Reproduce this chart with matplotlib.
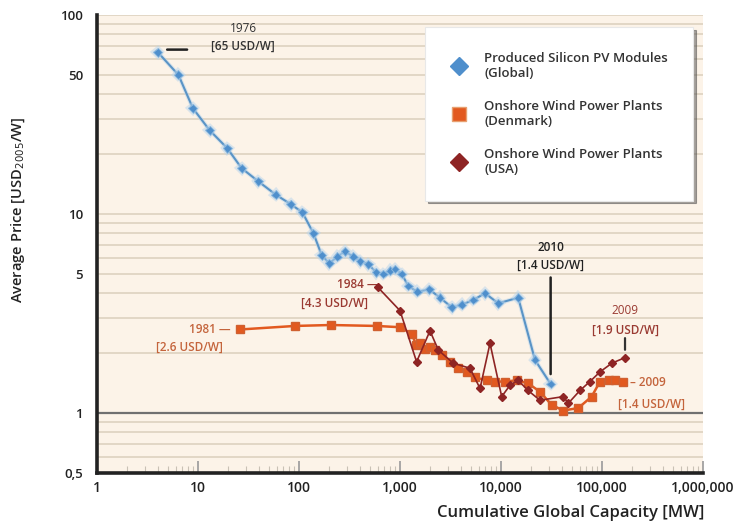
import matplotlib
matplotlib.use("Agg")
import matplotlib.pyplot as plt
from matplotlib.lines import Line2D
from matplotlib.ticker import FixedLocator, FixedFormatter, NullFormatter
import matplotlib.patheffects as pe

plt.rcParams['font.family'] = ['Open Sans', 'DejaVu Sans']

# ---- data ----
pv_x = [4, 6.4, 8.9, 13, 19.5, 27, 39.5, 59, 83, 108, 139, 168, 200, 239, 285, 345,
        402, 486, 578, 684, 796, 893, 1040, 1208, 1484, 1950, 2490, 3250, 4080, 5320,
        6950, 9400, 14800, 21700, 31000]
pv_y = [65, 50, 34, 26.4, 21.4, 17, 14.6, 12.5, 11.2, 10.2, 8.0, 6.2, 5.65, 6.1, 6.5, 6.1,
        5.8, 5.6, 5.1, 5.0, 5.2, 5.3, 5.0, 4.35, 4.07, 4.18, 3.8, 3.4, 3.5, 3.7,
        4.0, 3.56, 3.8, 1.85, 1.4]

dk_x = [26, 91, 206, 588, 1000, 1300, 1450, 1580, 1770, 2000, 2220, 2590, 3130, 3780,
        4570, 5530, 7220, 8720, 10970, 14300, 18600, 24300, 31700, 41400, 58200, 79000,
        95500, 116000, 134000, 163000]
dk_y = [2.63, 2.74, 2.77, 2.74, 2.70, 2.51, 2.2, 2.24, 2.11, 2.15, 2.07, 1.96, 1.81, 1.68,
        1.61, 1.51, 1.46, 1.44, 1.44, 1.46, 1.41, 1.28, 1.10, 1.03, 1.06, 1.21,
        1.44, 1.46, 1.46, 1.44]

us_x = [600, 1000, 1460, 1980, 2400, 3370, 4930, 6200, 7780, 10160, 12280, 14800, 18500,
        24300, 41400, 46400, 60600, 76000, 95500, 125000, 169000]
us_y = [4.3, 3.27, 1.81, 2.59, 2.07, 1.78, 1.68, 1.33, 2.24, 1.21, 1.38, 1.46, 1.3,
        1.16, 1.21, 1.12, 1.30, 1.44, 1.61, 1.78, 1.9]

x_ticks = [1, 10, 100, 1000, 10000, 100000, 1000000]
x_labels = ["1", "10", "100", "1,000", "10,000", "100,000", "1,000,000"]
y_ticks = [0.5, 1, 5, 10, 50, 100]
y_labels = ["0,5", "1", "5", "10", "50", "100"]

legend_labels = ["Produced Silicon PV Modules\n(Global)",
                 "Onshore Wind Power Plants\n(Denmark)",
                 "Onshore Wind Power Plants\n(USA)"]

# ---- colours ----
c_pv_line = "#5a94c6"
c_pv_mark = "#4f8fcc"
c_dk = "#e2591f"
c_us = "#8e2424"
c_dk_txt = "#c4643c"
c_us_txt = "#9a3a32"

fig = plt.figure(figsize=(7.41, 5.26), dpi=100)
ax = fig.add_axes([97/741, 1-473/526, 606/741, 458/526])
ax.set_facecolor("#fcf3e8")
ax.set_xscale("log")
ax.set_yscale("log")
ax.set_xlim(1, 1e6)
ax.set_ylim(0.5, 100)

# horizontal grid lines
minor_y = [0.6, 0.7, 0.8, 0.9] + [v for v in range(2, 10)] + [v*10 for v in range(2, 10)] + [10, 100]
for v in minor_y:
    ax.axhline(v, color="#e0d5c3", lw=1.3, zorder=0)
ax.axhline(1, color="#707070", lw=1.6, zorder=1)

# series
ax.plot(pv_x, pv_y, color=c_pv_line, lw=1.5, marker="D", ms=4.5,
        mfc=c_pv_mark, mec="#8fbbe0", mew=0.6, zorder=4,
        path_effects=[pe.Stroke(linewidth=3, foreground="#b7d4ec", alpha=0.5), pe.Normal()])
ax.plot(dk_x, dk_y, color=c_dk, lw=1.8, marker="s", ms=5.5, mfc=c_dk, mec="#d06030",
        zorder=3)
ax.plot(us_x, us_y, color=c_us, lw=1.2, marker="D", ms=4, mfc=c_us, mec=c_us,
        zorder=5)

# ticks
ax.xaxis.set_major_locator(FixedLocator(x_ticks))
ax.xaxis.set_major_formatter(FixedFormatter(x_labels))
ax.xaxis.set_minor_formatter(NullFormatter())
ax.yaxis.set_major_locator(FixedLocator(y_ticks))
ax.yaxis.set_major_formatter(FixedFormatter(y_labels))
ax.yaxis.set_minor_locator(FixedLocator([]))
ax.tick_params(axis="x", which="major", direction="in", length=9, width=1.2,
               color="#9a9a9a", labelsize=10, pad=6)
ax.tick_params(axis="x", which="minor", direction="in", length=5, width=0.8,
               color="#c9c1b5")
ax.tick_params(axis="y", which="major", length=0, labelsize=9.5, pad=10)
for lab in ax.get_xticklabels() + ax.get_yticklabels():
    lab.set_fontweight("semibold")
    lab.set_color("#222222")

for s in ["top", "right"]:
    ax.spines[s].set_visible(False)
for s in ["left", "bottom"]:
    ax.spines[s].set_linewidth(2.6)
    ax.spines[s].set_color("#222222")

# axis labels
fig.text(704/741, 1-513/526, "Cumulative Global Capacity [MW]", ha="right", va="center",
         fontsize=12, fontweight="semibold", color="#222222")
fig.text(18/741, 1-210/526, "Average Price [USD$_{2005}$/W]", ha="center", va="center",
         rotation=90, fontsize=10.5, fontweight="semibold", color="#222222")

# annotations
fs = 8.5
ax.text(28, 86, "1976", ha="center", va="center", fontsize=fs, color="#333333")
ax.text(28, 70, "[65 USD/W]", ha="center", va="center", fontsize=fs, color="#333333",
        fontweight="semibold")
ax.annotate("", xy=(4.95, 67), xytext=(7.8, 67),
            arrowprops=dict(arrowstyle="-", color="#222222", lw=1.8,
                            shrinkA=0, shrinkB=0))

ax.text(31000, 6.8, "2010", ha="center", va="center", fontsize=fs, color="#222222",
        fontweight="semibold")
ax.text(31000, 5.55, "[1.4 USD/W]", ha="center", va="center", fontsize=fs, color="#222222",
        fontweight="semibold")
ax.annotate("", xy=(31000, 1.57), xytext=(31000, 4.8),
            arrowprops=dict(arrowstyle="-", color="#222222", lw=1.8,
                            shrinkA=0, shrinkB=0))

ax.text(610, 4.45, "1984 —", ha="right", va="center", fontsize=fs, color=c_us_txt,
        fontweight="semibold")
ax.text(480, 3.55, "[4.3 USD/W]", ha="right", va="center", fontsize=fs, color=c_us_txt,
        fontweight="semibold")

ax.text(21, 2.63, "1981 —", ha="right", va="center", fontsize=fs, color=c_dk_txt,
        fontweight="semibold")
ax.text(17.5, 2.15, "[2.6 USD/W]", ha="right", va="center", fontsize=fs, color=c_dk_txt,
        fontweight="semibold")

ax.text(169000, 3.29, "2009", ha="center", va="center", fontsize=fs, color=c_us_txt)
ax.text(169000, 2.61, "[1.9 USD/W]", ha="center", va="center", fontsize=fs, color=c_us_txt,
        fontweight="semibold")
ax.annotate("", xy=(169000, 2.08), xytext=(169000, 2.38),
            arrowprops=dict(arrowstyle="-", color="#333333", lw=1.6,
                            shrinkA=0, shrinkB=0))

ax.text(190000, 1.42, "– 2009", ha="left", va="center", fontsize=fs, color=c_dk_txt,
        fontweight="semibold")
ax.text(145000, 1.11, "[1.4 USD/W]", ha="left", va="center", fontsize=fs, color=c_dk_txt,
        fontweight="semibold")

# legend
handles = [
    Line2D([], [], ls="none", marker="D", ms=9.5, mfc=c_pv_mark, mec=c_pv_mark),
    Line2D([], [], ls="none", marker="s", ms=9.5, mfc=c_dk, mec="#e7a070"),
    Line2D([], [], ls="none", marker="D", ms=9.5, mfc=c_us, mec=c_us),
]
leg = ax.legend(handles, legend_labels, loc="upper left",
                bbox_to_anchor=(0.541, 0.974), frameon=True, fancybox=False,
                shadow=True, fontsize=9.5, labelspacing=1.5, handletextpad=1.2,
                borderpad=1.9, handlelength=1.4, borderaxespad=0)
leg.get_frame().set_facecolor("white")
leg.get_frame().set_edgecolor("#e8e8e8")
leg.get_frame().set_linewidth(0.8)
for t in leg.get_texts():
    t.set_color("#333333")
    t.set_fontweight("semibold")
leg.set_zorder(10)

fig.savefig("out.png", dpi=100, facecolor="white")
